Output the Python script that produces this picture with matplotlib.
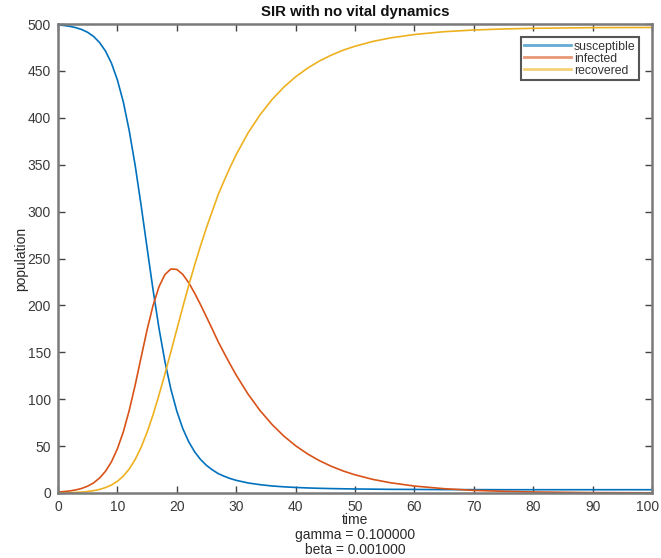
import matplotlib
matplotlib.use("Agg")
import matplotlib.pyplot as plt
import matplotlib.transforms as mtransforms

time = [0, 1, 2, 3, 4, 5, 6, 7, 8, 9, 10, 11, 12, 13, 14, 15, 16, 17, 18, 19,
        20, 21, 22, 23, 24, 25, 26, 27, 28, 29, 30, 32, 34, 36, 38, 40, 42, 44,
        46, 48, 50, 53, 56, 60, 65, 70, 75, 80, 90, 100]

susceptible = [499.0, 498.4, 497.5, 496.1, 494.1, 491.1, 486.7, 480.2, 471.1, 458.2,
               440.3, 416.8, 386.0, 348.9, 306.3, 261.2, 216.7, 175.7, 140.2, 110.7,
               87.3, 68.8, 54.7, 43.9, 35.7, 29.4, 24.6, 20.6, 17.8, 15.4,
               13.5, 10.7, 8.9, 7.5, 6.6, 5.9, 5.4, 5.0, 4.7, 4.5,
               4.3, 4.1, 3.9, 3.8, 3.6, 3.6, 3.5, 3.5, 3.5, 3.5]

infected = [1.0, 1.5, 2.2, 3.3, 4.9, 7.3, 10.8, 16.0, 23.2, 33.3,
            47.2, 65.2, 88.3, 115.3, 144.9, 174.0, 199.9, 219.9, 232.9, 238.8,
            238.4, 233.1, 224.2, 213.1, 200.7, 187.6, 174.4, 160.8, 148.8, 137.0,
            125.7, 105.4, 88.0, 73.3, 60.8, 50.4, 41.7, 34.5, 28.5, 23.5,
            19.4, 14.5, 10.9, 7.4, 4.6, 2.8, 1.8, 1.1, 0.4, 0.2]

recovered = [0.0, 0.1, 0.3, 0.6, 1.0, 1.6, 2.5, 3.8, 5.8, 8.5,
             12.5, 18.0, 25.7, 35.8, 48.8, 64.8, 83.4, 104.4, 126.9, 150.5,
             174.3, 198.1, 221.1, 243.0, 263.6, 283.0, 301.0, 318.6, 333.4, 347.6,
             360.8, 383.9, 403.1, 419.2, 432.6, 443.7, 452.9, 460.5, 466.8, 472.1,
             476.3, 481.4, 485.2, 488.8, 491.8, 493.6, 494.7, 495.4, 496.1, 496.3]

series_labels = ["susceptible", "infected", "recovered"]
series_colors = ["#0072BD", "#D95319", "#EDB120"]
x_ticks = list(range(0, 101, 10))
y_ticks = list(range(0, 501, 50))

plt.rcParams['font.family'] = ['Liberation Sans', 'DejaVu Sans']

W, H = 661, 558
fig = plt.figure(figsize=(W / 100, H / 100), dpi=100)
ax = fig.add_axes([58 / W, 1 - 493 / H, (652 - 58) / W, (493 - 24) / H])

for vals, lab, col in zip([susceptible, infected, recovered], series_labels, series_colors):
    ax.plot(time, vals, color=col, lw=1.2, label=lab)

ax.set_xlim(0, 100)
ax.set_ylim(0, 500)
ax.set_xticks(x_ticks)
ax.set_yticks(y_ticks)

spine_col = "#7a7a7a"
for s in ax.spines.values():
    s.set_color(spine_col)
    s.set_linewidth(1.8)
ax.tick_params(direction='in', length=5, width=1.0, color="#444444",
               top=True, right=True, labelsize=10, labelcolor="#3a3a3a")
ax.tick_params(axis='x', pad=5)
ax.tick_params(axis='y', pad=5)

# keep the last x tick label inside the figure
fig.canvas.draw()
last_lbl = ax.get_xticklabels()[-1]
last_lbl.set_transform(last_lbl.get_transform() +
                       mtransforms.ScaledTranslation(-4 / 100, 0, fig.dpi_scale_trans))

ax.set_title("SIR with no vital dynamics", fontsize=10.8, fontweight='bold', pad=6,
             color="#111111")
ax.set_xlabel("time\ngamma = 0.100000\nbeta = 0.001000", fontsize=10, color="#2a2a2a",
              labelpad=-1, linespacing=1.12)
ax.set_ylabel("population", fontsize=10, color="#2a2a2a", labelpad=0)

leg = ax.legend(loc='upper right', bbox_to_anchor=(639 / W, 1 - 37 / H),
                bbox_transform=fig.transFigure, borderaxespad=0, fancybox=False,
                fontsize=8.8, labelspacing=0.0, handlelength=3.8, handletextpad=0.25,
                borderpad=0.3, framealpha=1)
leg.get_frame().set_edgecolor("#555555")
leg.get_frame().set_linewidth(1.5)
for txt in leg.get_texts():
    txt.set_color("#333333")
for line in leg.get_lines():
    line.set_linewidth(2.0)
    line.set_alpha(0.6)

fig.savefig("out.png", dpi=100)
